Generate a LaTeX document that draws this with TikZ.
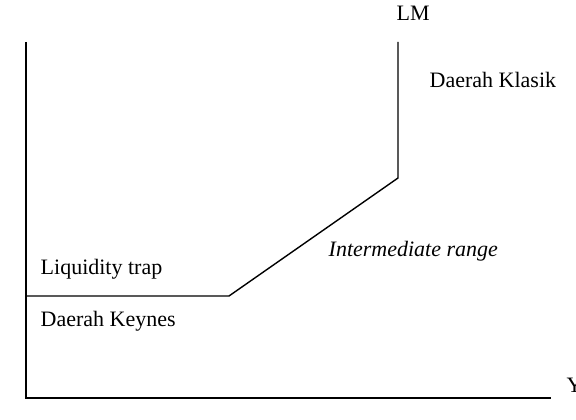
\documentclass[tikz,border=0pt]{standalone}
\usepackage{fontspec}
\setmainfont{Liberation Serif}
\usepackage{tikz}
\tikzset{lbl/.style={anchor=base west,inner sep=0pt,font=\fontsize{22}{26}\selectfont}}

\begin{document}
\begin{tikzpicture}[x=1pt,y=-1pt,line width=1.4pt]
\useasboundingbox (0,0) rectangle (576,420);
\coordinate (o) at (26,398); \coordinate (ytop) at (26,42); \coordinate (xend) at (551,398);
\coordinate (trap) at (26,296); \coordinate (bend) at (229,296); \coordinate (kink) at (398,178); \coordinate (lmtop) at (398,42);
\draw (ytop)--(o)--(xend);
\draw (trap)--(bend)--(kink)--(lmtop);
\node[lbl] (lm) at (396,20.5) {LM}; \node[lbl] (klasik) at (429,88) {Daerah Klasik};
\node[lbl] (inter) at (328,256.5) {\itshape Intermediate range};
\node[lbl] (trapl) at (40,274) {Liquidity trap}; \node[lbl] (keynes) at (40,326) {Daerah Keynes};
\node[lbl] (ylbl) at (566,392) {Y};
\end{tikzpicture}
\end{document}
